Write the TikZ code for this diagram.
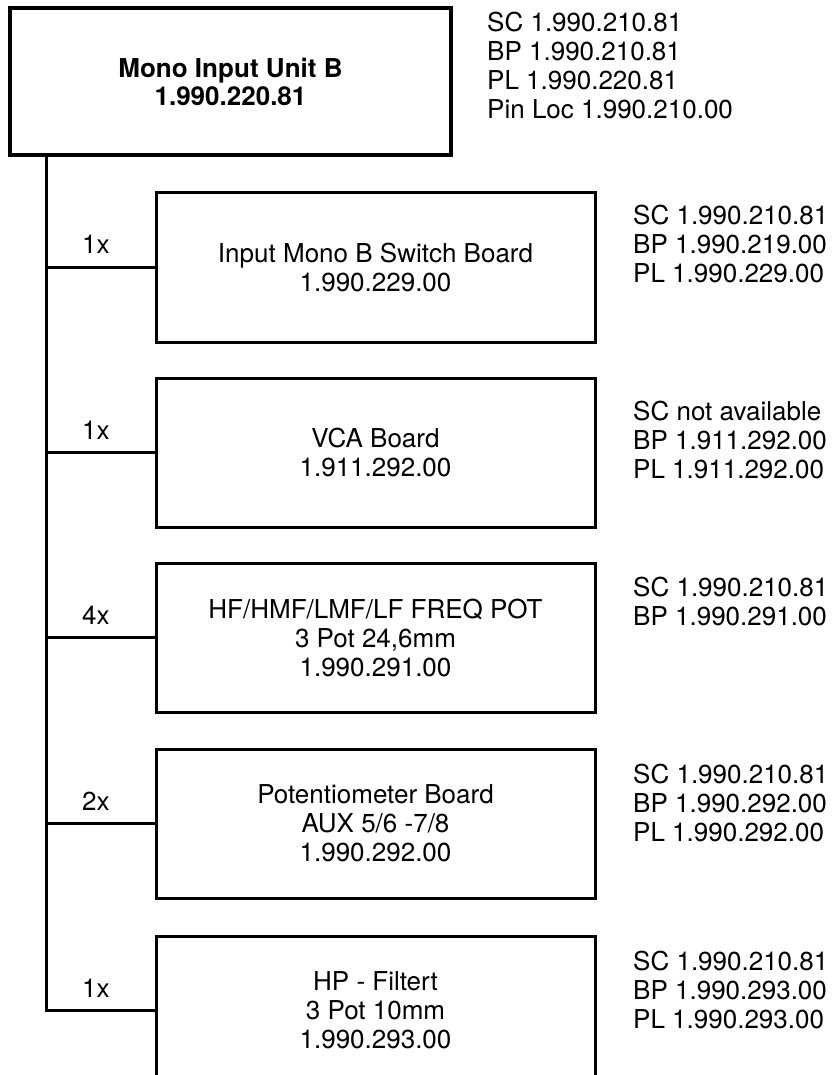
\documentclass[tikz,border=0pt]{standalone}
\usepackage{fontspec}
\setmainfont{TeX Gyre Heros}
\begin{document}
\begin{tikzpicture}[x=1pt,y=-1pt]
    \tikzstyle{unit} = [rectangle, draw, line width=4pt, minimum width=441pt, minimum height=147pt, align=center, font=\bfseries\fontsize{26}{28}\selectfont]
    \tikzstyle{board} = [rectangle, draw, line width=3pt, minimum width=439pt, minimum height=149pt, align=center, font=\fontsize{26}{29}\selectfont]
    \tikzstyle{parts} = [anchor=north west, inner sep=0pt, align=left, font=\fontsize{26}{29}\selectfont]
    \tikzstyle{count} = [pos=0.46, above=12pt, inner sep=0pt, font=\fontsize{26}{29}\selectfont]
    \tikzstyle{link} = [line width=3pt]

    \useasboundingbox (0,0) rectangle (836,1075);

    % Mono input unit
    \node [unit] (unit) at (230.5,81.5) {Mono Input Unit B\\1.990.220.81};
    \node [parts] (unitparts) at (487,12) {SC 1.990.210.81\\BP 1.990.210.81\\PL 1.990.220.81\\Pin Loc 1.990.210.00};

    % Switch board
    \node [board] (switch) at (375.5,267.5) {Input Mono B Switch Board\\1.990.229.00};
    \node [parts] (switchparts) at (633,205) {SC 1.990.210.81\\BP 1.990.219.00\\PL 1.990.229.00};

    % VCA board
    \node [board] (vca) at (375.5,452.5) {VCA Board\\1.911.292.00};
    \node [parts] (vcaparts) at (633,401) {SC not available\\BP 1.911.292.00\\PL 1.911.292.00};

    % Frequency pots
    \node [board] (freq) at (375.5,637.5) {HF/HMF/LMF/LF FREQ POT\\3 Pot 24,6mm\\1.990.291.00};
    \node [parts] (freqparts) at (633,577) {SC 1.990.210.81\\BP 1.990.291.00};

    % Potentiometer board
    \node [board] (aux) at (375.5,823.5) {Potentiometer Board\\AUX 5/6 -7/8\\1.990.292.00};
    \node [parts] (auxparts) at (633,764) {SC 1.990.210.81\\BP 1.990.292.00\\PL 1.990.292.00};

    % HP filter
    \node [board] (filter) at (375.5,1010.5) {HP - Filtert\\3 Pot 10mm\\1.990.293.00};
    \node [parts] (filterparts) at (633,951) {SC 1.990.210.81\\BP 1.990.293.00\\PL 1.990.293.00};

    % Tree
    \coordinate (trunk) at (46,0);
    \draw [link] (unit.south -| trunk) -- (trunk |- filter.west) -- node [count] (nfilter) {1x} (filter.west);
    \draw [link] (trunk |- switch.west) -- node [count] (nswitch) {1x} (switch.west);
    \draw [link] (trunk |- vca.west) -- node [count] (nvca) {1x} (vca.west);
    \draw [link] (trunk |- freq.west) -- node [count] (nfreq) {4x} (freq.west);
    \draw [link] (trunk |- aux.west) -- node [count] (naux) {2x} (aux.west);

\end{tikzpicture}
\end{document}
